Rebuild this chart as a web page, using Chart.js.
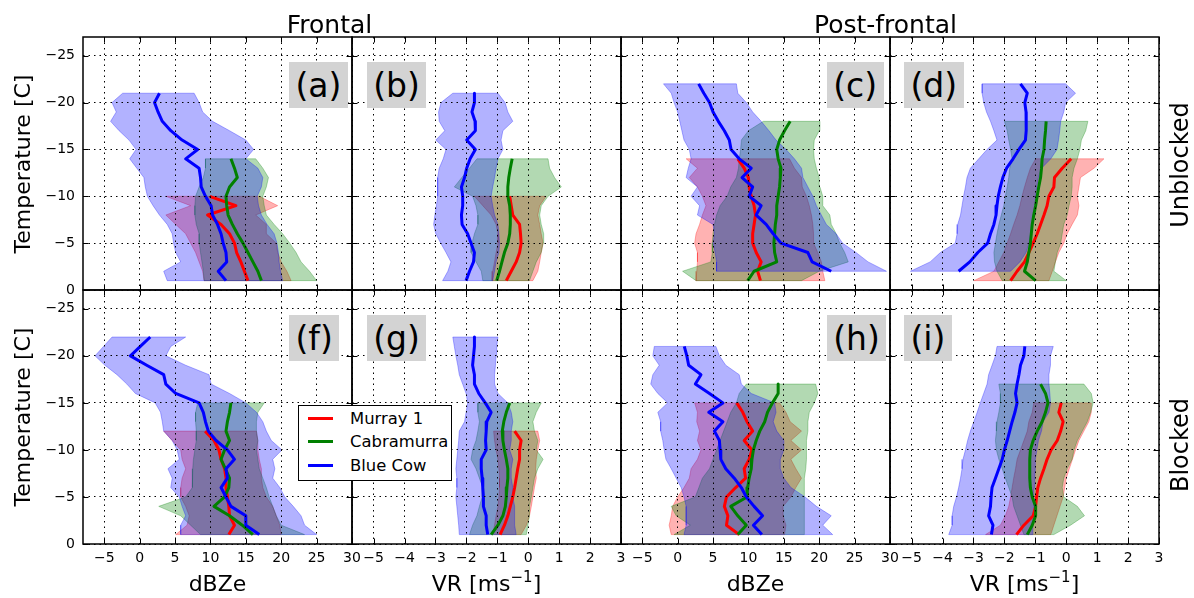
<!DOCTYPE html>
<html>
<head>
<meta charset="utf-8">
<script src="https://cdn.jsdelivr.net/npm/chart.js@4.4.1/dist/chart.umd.min.js"></script>
<style>
  html, body { margin: 0; padding: 0; background: #fff; }
  #wrap { position: relative; width: 1194px; height: 598px; overflow: hidden;
          font-family: "DejaVu Sans", sans-serif; color: #000; }
  #plots canvas { position: absolute; left: 0; top: 0; }
  .t { position: absolute; white-space: nowrap; text-align: center; z-index: 5; }
  .rot { transform: rotate(-90deg); }
  .lab { position: absolute; background: #d3d3d3; font-size: 33px; line-height: 33px;
         padding: 6.5px 6.5px; z-index: 5; white-space: nowrap; }
  #legend { position: absolute; left: 298px; top: 405px; width: 152px; height: 74px;
            border: 1px solid #000; background: #fff; z-index: 6; }
  #legend .ln { position: absolute; left: 9px; width: 25px; height: 3px; }
  #legend .tx { position: absolute; left: 51px; font-size: 16.4px; line-height: 17px; white-space: nowrap; }
  sup.e { font-size: 15px; vertical-align: 0; position: relative; top: -9px; }
</style>
</head>
<body>
<div id="wrap">
  <div id="plots"></div>

  <div class="t" style="left:229.5px;top:12px;width:200px;font-size:25px;line-height:25px;">Frontal</div>
  <div class="t" style="left:785.5px;top:12px;width:200px;font-size:25px;line-height:25px;">Post-frontal</div>

  <div class="t rot" style="left:-107.5px;top:152.5px;width:260px;height:22px;font-size:22px;line-height:22px;">Temperature [C]</div>
  <div class="t rot" style="left:-107.5px;top:406px;width:260px;height:22px;font-size:22px;line-height:22px;">Temperature [C]</div>

  <div class="t rot" style="left:1079.7px;top:153px;width:200px;height:24px;font-size:24px;line-height:24px;">Unblocked</div>
  <div class="t rot" style="left:1079.7px;top:433px;width:200px;height:24px;font-size:24px;line-height:24px;">Blocked</div>

  <div class="t" style="left:117.5px;top:572.5px;width:200px;font-size:22px;line-height:22px;">dBZe</div>
  <div class="t" style="left:386.5px;top:572.5px;width:200px;font-size:22px;line-height:22px;">VR [ms<sup class="e">&minus;1</sup>]</div>
  <div class="t" style="left:655.5px;top:572.5px;width:200px;font-size:22px;line-height:22px;">dBZe</div>
  <div class="t" style="left:924.5px;top:572.5px;width:200px;font-size:22px;line-height:22px;">VR [ms<sup class="e">&minus;1</sup>]</div>

  <div class="lab" style="left:289px;top:62px;">(a)</div>
  <div class="lab" style="left:366.7px;top:62px;">(b)</div>
  <div class="lab" style="left:826.7px;top:62px;">(c)</div>
  <div class="lab" style="left:904px;top:62px;">(d)</div>
  <div class="lab" style="left:289px;top:315px;">(f)</div>
  <div class="lab" style="left:366.7px;top:315px;">(g)</div>
  <div class="lab" style="left:826.7px;top:315px;">(h)</div>
  <div class="lab" style="left:904px;top:315px;">(i)</div>

  <div id="legend">
    <div class="ln" style="top:10.8px;background:#ff0000;"></div>
    <div class="tx" style="top:3.8px;">Murray 1</div>
    <div class="ln" style="top:34.2px;background:#008000;"></div>
    <div class="tx" style="top:27.2px;">Cabramurra</div>
    <div class="ln" style="top:57.5px;background:#0000ff;"></div>
    <div class="tx" style="top:50.5px;">Blue Cow</div>
  </div>
</div>

<script>
// ---- temperature levels (deg C) ----
const T10 = [-10, -9, -8, -7, -6, -5, -4, -3, -2, -1];
const T12 = [-12, -11, -10, -9, -8, -7, -6, -5, -4, -3, -2, -1];
const T14 = [-14, -13, -12, -11, -10, -9, -8, -7, -6, -5, -4, -3, -2, -1];
const T15 = [-15, -14, -13, -12, -11, -10, -9, -8, -7, -6, -5, -4, -3, -2, -1];
const T17 = [-17, -16, -15, -14, -13, -12, -11, -10, -9, -8, -7, -6, -5, -4, -3, -2, -1];
const T18 = [-18, -17, -16, -15, -14, -13, -12, -11, -10, -9, -8, -7, -6, -5, -4, -3, -2, -1];
const T21 = [-21, -20, -19, -18, -17, -16, -15, -14, -13, -12, -11, -10, -9, -8, -7, -6, -5, -4, -3, -2, -1];
const T22 = [-22, -21, -20, -19, -18, -17, -16, -15, -14, -13, -12, -11, -10, -9, -8, -7, -6, -5, -4, -3, -2, -1];
const T22to2 = [-22, -21, -20, -19, -18, -17, -16, -15, -14, -13, -12, -11, -10, -9, -8, -7, -6, -5, -4, -3, -2];

// ---- tick labels ----
const tempTicks = [-25, -20, -15, -10, -5, 0];
const dbzTicks = [-5, 0, 5, 10, 15, 20, 25, 30];
const vrTicks = [-5, -4, -3, -2, -1, 0, 1, 2, 3];

// ---- (a) frontal, unblocked, dBZe ----
const aRedMed = [9.9, 13.6, 9.6, 11.5, 12.7, 13.4, 13.7, 14.3, 14.8, 15.3];
const aRedLo = [3.7, 7.2, 3.7, 5.1, 6.5, 7.2, 7.9, 8.4, 8.9, 9.1];
const aRedHi = [16.9, 19.5, 16.4, 17.9, 17.9, 19.3, 19.5, 20.0, 20.8, 21.4];
const aGreenMed = [12.9, 13.4, 13.8, 12.7, 12.2, 12.3, 12.5, 13.1, 13.8, 14.6, 15.3, 16.0, 16.7, 17.2];
const aGreenLo = [9.3, 9.3, 9.0, 8.4, 7.9, 7.8, 7.8, 8.0, 8.4, 8.4, 8.6, 8.8, 9.0, 9.1];
const aGreenHi = [16.4, 17.4, 18.2, 17.9, 17.4, 17.6, 17.9, 19.0, 20.2, 21.2, 22.1, 22.8, 24.0, 25.0];
const aBlueMed = [2.8, 2.1, 2.6, 3.2, 4.4, 6.0, 8.2, 6.5, 8.4, 8.6, 8.7, 9.3, 10.1, 10.3, 11.0, 11.5, 11.8, 12.2, 12.3, 11.1, 12.2];
const aBlueLo = [-2.4, -3.9, -3.3, -4.1, -2.9, -1.5, -0.5, -1.4, -0.4, 0.6, 0.8, 1.1, 1.9, 2.8, 3.9, 4.6, 4.8, 5.1, 5.8, 3.4, 3.9];
const aBlueHi = [7.7, 8.4, 8.9, 10.3, 12.7, 15.0, 16.1, 15.0, 16.7, 17.4, 17.2, 16.6, 16.8, 17.2, 18.0, 19.0, 19.4, 19.6, 19.7, 19.9, 20.2];

// ---- (b) frontal, unblocked, VR ----
const bRedMed = [-0.6, -0.55, -0.5, -0.28, -0.25, -0.23, -0.28, -0.39, -0.55, -0.71];
const bRedLo = [-1.74, -1.47, -1.2, -1.04, -0.98, -0.98, -1.04, -1.09, -1.15, -1.17];
const bRedHi = [0.58, 0.37, 0.31, 0.37, 0.42, 0.48, 0.42, 0.37, 0.31, 0.15];
const bGreenMed = [-0.52, -0.58, -0.63, -0.66, -0.66, -0.6, -0.58, -0.58, -0.6, -0.66, -0.77, -0.85, -0.93, -1.02];
const bGreenLo = [-1.66, -1.9, -2.15, -2.39, -1.8, -1.69, -1.63, -1.63, -1.74, -1.82, -1.85, -1.69, -1.52, -1.47];
const bGreenHi = [0.64, 0.69, 0.85, 1.07, 0.64, 0.42, 0.37, 0.42, 0.5, 0.48, 0.42, 0.26, 0.15, 0.04];
const bBlueMed = [-1.74, -1.74, -1.82, -1.72, -1.71, -1.99, -1.71, -1.88, -1.99, -2.06, -2.16, -2.12, -2.12, -2.16, -2.14, -1.96, -1.85, -1.74, -1.77, -1.9, -2.01];
const bBlueLo = [-2.44, -2.82, -2.9, -2.88, -2.7, -2.99, -2.66, -2.75, -2.88, -2.93, -2.93, -2.93, -2.97, -3.02, -3.06, -2.99, -2.83, -2.66, -2.5, -2.6, -2.77];
const bBlueHi = [-0.98, -0.75, -0.66, -0.5, -0.82, -0.88, -0.82, -0.98, -1.04, -1.09, -1.15, -1.2, -1.15, -1.09, -0.98, -0.95, -0.93, -0.95, -1.04, -1.09, -1.15];

// ---- (c) post-frontal, unblocked, dBZe ----
const cRedMed = [8.5, 9.4, 10.0, 10.1, 10.4, 10.8, 11.0, 10.8, 10.6, 10.6, 11.1, 11.8, 11.3, 11.7];
const cRedLo = [1.2, 2.8, 1.65, 2.8, 3.5, 4.0, 3.5, 3.1, 2.6, 2.4, 2.8, 2.8, 2.7, 2.6];
const cRedHi = [15.8, 16.5, 17.5, 17.6, 18.2, 18.6, 18.9, 19.1, 19.2, 19.2, 19.8, 20.3, 20.5, 20.8];
const cGreenMed = [15.9, 15.1, 14.4, 14.0, 14.2, 14.6, 14.5, 14.4, 14.2, 14.0, 14.0, 13.8, 13.7, 13.6, 13.7, 14.0, 10.8, 9.9];
const cGreenLo = [12.1, 10.0, 9.0, 8.9, 8.7, 8.6, 8.3, 7.5, 7.0, 6.0, 5.5, 5.2, 5.0, 4.9, 4.9, 4.7, 0.7, 2.6];
const cGreenHi = [20.1, 20.0, 19.3, 19.2, 19.3, 19.6, 20.0, 20.1, 20.5, 20.5, 21.5, 21.7, 22.4, 22.9, 23.6, 24.1, 20.0, 17.5];
const cBlueMed = [2.97, 3.7, 4.5, 5.0, 5.75, 6.6, 7.3, 7.55, 8.7, 10.4, 9.1, 10.6, 10.1, 11.8, 11.1, 12.5, 13.5, 14.6, 18.4, 19.0, 21.7];
const cBlueLo = [-2.0, -0.9, -0.5, 0.0, 0.3, 0.6, 0.9, 1.65, 1.9, 1.5, 1.2, 2.8, 1.9, 3.1, 2.8, 5.0, 5.2, 5.0, 5.3, 5.5, 5.5];
const cBlueHi = [8.3, 8.5, 9.7, 10.6, 11.8, 12.9, 13.9, 15.3, 16.5, 17.5, 17.7, 18.4, 19.1, 19.6, 20.3, 21.0, 22.4, 23.3, 25.2, 26.9, 29.5];

// ---- (d) post-frontal, unblocked, VR ----
const dRedMed = [0.16, -0.13, -0.38, -0.4, -0.56, -0.62, -0.72, -0.83, -0.94, -1.07, -1.21, -1.35, -1.59, -1.8];
const dRedLo = [-0.99, -1.16, -1.26, -1.35, -1.43, -1.5, -1.59, -1.7, -1.8, -1.91, -2.02, -2.18, -2.34, -2.99];
const dRedHi = [1.22, 0.9, 0.46, 0.41, 0.36, 0.41, 0.36, 0.19, 0.03, -0.08, -0.24, -0.35, -0.45, -0.56];
const dGreenMed = [-0.65, -0.67, -0.7, -0.72, -0.78, -0.8, -0.83, -0.89, -0.94, -0.99, -1.05, -1.1, -1.13, -1.16, -1.21, -1.26, -1.35, -0.99];
const dGreenLo = [-2.0, -1.91, -1.86, -1.8, -1.75, -1.83, -1.86, -1.91, -1.97, -2.02, -2.1, -2.18, -2.24, -2.29, -2.34, -2.32, -2.24, -2.07];
const dGreenHi = [0.7, 0.63, 0.49, 0.44, 0.36, 0.25, 0.19, 0.19, 0.16, 0.09, 0.03, -0.08, -0.13, -0.18, -0.29, -0.35, -0.4, 0.0];
const dBlueMed = [-1.48, -1.26, -1.34, -1.3, -1.29, -1.3, -1.32, -1.53, -1.72, -1.93, -2.05, -2.13, -2.2, -2.24, -2.27, -2.34, -2.45, -2.54, -2.86, -3.12, -3.48];
const dBlueLo = [-2.72, -2.72, -2.67, -2.58, -2.45, -2.34, -2.24, -2.56, -2.83, -3.1, -3.21, -3.26, -3.32, -3.37, -3.42, -3.51, -3.53, -3.59, -4.07, -4.4, -5.04];
const dBlueHi = [-0.02, 0.3, -0.02, -0.08, -0.18, -0.21, -0.25, -0.3, -0.5, -0.8, -0.9, -0.95, -1.0, -1.0, -1.05, -1.1, -1.15, -1.2, -1.3, -1.5, -1.8];

// ---- (f) frontal, blocked, dBZe ----
const fRedMed = [9.25, 10.5, 11.2, 11.5, 12.0, 12.2, 12.2, 12.4, 12.6, 12.7, 13.4, 12.6];
const fRedLo = [3.4, 4.6, 5.8, 6.0, 6.5, 6.0, 5.8, 5.8, 6.5, 7.0, 6.7, 5.1];
const fRedHi = [16.5, 16.7, 16.7, 16.9, 17.2, 17.2, 17.4, 17.9, 18.8, 19.3, 19.8, 20.0];
const fGreenMed = [12.9, 12.7, 12.4, 12.2, 12.7, 12.0, 11.5, 12.1, 12.7, 12.6, 12.0, 10.5, 12.7, 14.5, 16.0];
const fGreenLo = [8.2, 7.9, 7.9, 8.0, 8.0, 7.8, 7.6, 7.5, 7.5, 7.4, 6.5, 2.7, 5.8, 7.2, 8.6];
const fGreenHi = [17.6, 16.7, 16.5, 16.5, 16.7, 16.5, 16.7, 16.9, 17.4, 17.9, 18.3, 18.8, 19.3, 20.0, 23.3];
const fBlueMed = [1.5, 0.1, -1.3, 1.0, 3.4, 3.7, 5.1, 8.4, 9.0, 9.3, 9.7, 10.8, 12.4, 13.4, 12.2, 12.4, 11.5, 12.2, 12.9, 15.0, 15.0, 16.9];
const fBlueLo = [-3.9, -5.1, -6.3, -4.9, -3.2, -1.8, -0.6, 2.2, 2.95, 3.2, 3.4, 4.6, 5.3, 5.6, 4.0, 4.6, 4.4, 5.6, 6.0, 6.5, 5.8, 5.8];
const fBlueHi = [6.5, 4.4, 3.7, 6.5, 9.8, 10.1, 12.7, 15.0, 16.5, 17.4, 17.9, 18.6, 20.1, 18.8, 19.1, 18.8, 19.8, 20.5, 21.7, 22.8, 23.3, 25.0];

// ---- (g) frontal, blocked, VR ----
const gRedMed = [-0.44, -0.23, -0.28, -0.28, -0.34, -0.39, -0.44, -0.5, -0.58, -0.66, -0.77, -0.91];
const gRedLo = [-1.12, -1.09, -1.04, -0.98, -0.95, -0.93, -0.93, -0.95, -0.98, -1.04, -1.09, -1.15];
const gRedHi = [0.31, 0.37, 0.31, 0.26, 0.24, 0.26, 0.2, 0.15, 0.1, 0.04, -0.06, -0.23];
const gGreenMed = [-0.6, -0.71, -0.79, -0.84, -0.82, -0.77, -0.71, -0.66, -0.66, -0.69, -0.71, -0.74, -0.82, -0.98, -1.2];
const gGreenLo = [-1.63, -1.63, -1.58, -1.63, -1.69, -1.8, -1.85, -1.69, -1.58, -1.47, -1.49, -1.58, -1.66, -1.8, -1.9];
const gGreenHi = [0.42, 0.26, 0.15, 0.2, 0.31, 0.26, 0.48, 0.31, 0.2, 0.15, 0.1, 0.04, 0.04, -0.01, -0.06];
const gBlueMed = [-1.74, -1.74, -1.77, -1.8, -1.74, -1.74, -1.6, -1.39, -1.2, -1.34, -1.36, -1.38, -1.36, -1.52, -1.52, -1.49, -1.47, -1.45, -1.45, -1.36, -1.36, -1.31];
const gBlueLo = [-2.44, -2.39, -2.34, -2.28, -2.23, -2.12, -2.01, -1.96, -2.01, -2.06, -2.23, -2.25, -2.28, -2.31, -2.34, -2.31, -2.31, -2.34, -2.31, -2.28, -2.25, -2.23];
const gBlueHi = [-0.98, -1.02, -1.04, -1.06, -1.09, -1.09, -0.98, -0.66, -0.55, -0.5, -0.55, -0.55, -0.6, -0.5, -0.55, -0.55, -0.5, -0.5, -0.44, -0.44, -0.44, -0.39];

// ---- (h) post-frontal, blocked, dBZe ----
const hRedMed = [8.35, 9.2, 9.8, 10.6, 9.4, 10.5, 10.1, 9.4, 9.6, 8.2, 6.9, 6.6, 7.1, 6.9, 8.7];
const hRedLo = [2.4, 2.8, 2.7, 3.1, 2.8, 3.3, 2.8, 1.9, 1.65, 0.9, 0.0, -0.7, -0.9, -1.2, -0.9];
const hRedHi = [14.4, 15.3, 15.9, 17.5, 16.0, 17.5, 16.0, 16.7, 17.5, 16.7, 16.0, 14.9, 14.9, 15.3, 15.1];
const hGreenMed = [14.2, 14.2, 13.4, 12.7, 12.3, 11.6, 11.1, 10.7, 10.5, 10.4, 10.1, 9.9, 9.8, 7.5, 8.5, 9.7, 8.5];
const hGreenLo = [9.7, 8.7, 8.3, 7.5, 7.0, 6.5, 6.0, 5.5, 5.0, 4.5, 3.5, 3.0, 2.5, -0.9, -0.2, 1.8, -0.5];
const hGreenHi = [19.5, 19.8, 19.3, 18.6, 18.4, 18.4, 18.2, 18.2, 18.2, 18.1, 17.9, 17.9, 17.9, 17.9, 17.9, 17.9, 17.9];
const hBlueMed = [0.94, 1.3, 1.56, 3.3, 2.5, 4.5, 6.4, 4.4, 6.4, 5.2, 5.9, 6.0, 6.1, 6.8, 8.0, 9.0, 9.7, 10.8, 12.0, 10.7, 11.9];
const hBlueLo = [-3.3, -3.5, -2.6, -3.5, -3.8, -2.8, -1.4, -2.8, -2.4, -2.4, -2.1, -1.9, -1.65, -0.9, -0.2, 0.5, 0.9, 1.2, 1.2, 1.2, 0.9];
const hBlueHi = [5.4, 5.9, 6.8, 8.7, 9.0, 10.4, 13.7, 13.9, 13.5, 14.0, 15.0, 15.0, 14.5, 14.5, 15.0, 16.0, 18.0, 19.6, 21.7, 20.5, 21.9];

// ---- (i) post-frontal, blocked, VR ----
const iRedMed = [-0.16, -0.24, -0.1, -0.18, -0.29, -0.49, -0.62, -0.72, -0.83, -0.92, -0.96, -0.99, -1.07, -1.37, -1.61];
const iRedLo = [-1.05, -1.1, -1.21, -1.26, -1.37, -1.48, -1.59, -1.64, -1.7, -1.75, -1.8, -1.86, -1.97, -2.13, -2.61];
const iRedHi = [0.81, 0.81, 0.73, 0.57, 0.41, 0.3, 0.2, 0.1, 0.0, -0.05, -0.1, -0.2, -0.3, -0.4, -0.5];
const iGreenMed = [-0.83, -0.67, -0.59, -0.67, -0.78, -0.94, -1.07, -1.16, -1.18, -1.18, -1.18, -1.16, -1.1, -0.99, -0.99, -1.1, -1.26];
const iGreenLo = [-2.18, -2.13, -2.13, -2.18, -2.24, -2.26, -2.29, -2.26, -2.18, -2.07, -1.97, -1.86, -1.75, -1.7, -1.59, -1.48, -1.37];
const iGreenHi = [0.57, 0.81, 0.87, 0.79, 0.68, 0.52, 0.36, 0.25, 0.19, 0.03, -0.08, -0.13, -0.08, 0.36, 0.59, 0.14, -0.4];
const iBlueMed = [-1.34, -1.37, -1.48, -1.53, -1.59, -1.64, -1.59, -1.66, -1.75, -1.83, -1.91, -2.0, -2.07, -2.18, -2.29, -2.4, -2.43, -2.45, -2.51, -2.37, -2.42];
const iBlueLo = [-2.24, -2.29, -2.4, -2.51, -2.56, -2.67, -2.78, -2.88, -2.99, -3.1, -3.19, -3.26, -3.34, -3.37, -3.42, -3.48, -3.55, -3.64, -3.69, -3.69, -3.8];
const iBlueHi = [-0.42, -0.51, -0.51, -0.56, -0.56, -0.53, -0.51, -0.56, -0.75, -0.8, -0.9, -0.95, -1.0, -1.0, -1.02, -1.04, -1.05, -1.06, -1.07, -1.08, -1.1];

// ---- page geometry ----
const PAGE_W = 1194, PAGE_H = 598;
const COLS = [83, 352, 621, 890, 1159];
const ROWS = [37, 290, 544];
const TICK_LEN = 5.5;
const Y_AXIS_W = 60;   // room reserved for temperature tick labels
const X_AXIS_H = 30;   // room reserved for x tick labels

const STATION_STYLE = [
  { line: '#ff0000', fill: 'rgba(255,0,0,0.3)', edge: 'rgba(255,0,0,0.3)' },   // Murray 1
  { line: '#008000', fill: 'rgba(0,128,0,0.3)', edge: 'rgba(0,128,0,0.3)' },   // Cabramurra
  { line: '#0000ff', fill: 'rgba(0,0,255,0.3)', edge: 'rgba(0,0,255,0.3)' }    // Blue Cow
];

const XAXES = {
  dbz: { min: -8, max: 30, ticks: dbzTicks },
  vr: { min: -5.7, max: 3, ticks: vrTicks }
};

const PANELS = [
  { col: 0, row: 0, axis: 'dbz', st: [[T10, aRedMed, aRedLo, aRedHi], [T14, aGreenMed, aGreenLo, aGreenHi], [T21, aBlueMed, aBlueLo, aBlueHi]] },
  { col: 1, row: 0, axis: 'vr',  st: [[T10, bRedMed, bRedLo, bRedHi], [T14, bGreenMed, bGreenLo, bGreenHi], [T21, bBlueMed, bBlueLo, bBlueHi]] },
  { col: 2, row: 0, axis: 'dbz', st: [[T14, cRedMed, cRedLo, cRedHi], [T18, cGreenMed, cGreenLo, cGreenHi], [T22to2, cBlueMed, cBlueLo, cBlueHi]] },
  { col: 3, row: 0, axis: 'vr',  st: [[T14, dRedMed, dRedLo, dRedHi], [T18, dGreenMed, dGreenLo, dGreenHi], [T22to2, dBlueMed, dBlueLo, dBlueHi]] },
  { col: 0, row: 1, axis: 'dbz', st: [[T12, fRedMed, fRedLo, fRedHi], [T15, fGreenMed, fGreenLo, fGreenHi], [T22, fBlueMed, fBlueLo, fBlueHi]] },
  { col: 1, row: 1, axis: 'vr',  st: [[T12, gRedMed, gRedLo, gRedHi], [T15, gGreenMed, gGreenLo, gGreenHi], [T22, gBlueMed, gBlueLo, gBlueHi]] },
  { col: 2, row: 1, axis: 'dbz', st: [[T15, hRedMed, hRedLo, hRedHi], [T17, hGreenMed, hGreenLo, hGreenHi], [T21, hBlueMed, hBlueLo, hBlueHi]] },
  { col: 3, row: 1, axis: 'vr',  st: [[T15, iRedMed, iRedLo, iRedHi], [T17, iGreenMed, iGreenLo, iGreenHi], [T21, iBlueMed, iBlueLo, iBlueHi]] }
];

const fmt = v => (v < 0 ? '\u2212' + Math.abs(v) : String(v));

// closed polygon: lower bound going up, upper bound coming back down
function bandPoints(temps, lo, hi) {
  const pts = temps.map((t, i) => ({ x: lo[i], y: t }));
  for (let i = temps.length - 1; i >= 0; i--) pts.push({ x: hi[i], y: temps[i] });
  pts.push({ x: lo[0], y: temps[0] });
  return pts;
}

function medianPoints(temps, med) {
  return temps.map((t, i) => ({ x: med[i], y: t }));
}

// black axes frame plus inward tick marks on all four sides
const framePlugin = {
  id: 'panelFrame',
  afterDraw(chart) {
    const { ctx, chartArea: a, scales } = chart;
    ctx.save();
    ctx.strokeStyle = '#000';
    ctx.lineWidth = 1;
    ctx.beginPath();
    scales.x.ticks.forEach(t => {
      const px = Math.round(scales.x.getPixelForValue(t.value)) + 0.5;
      ctx.moveTo(px, a.top); ctx.lineTo(px, a.top + TICK_LEN);
      ctx.moveTo(px, a.bottom); ctx.lineTo(px, a.bottom - TICK_LEN);
    });
    scales.y.ticks.forEach(t => {
      const py = Math.round(scales.y.getPixelForValue(t.value)) + 0.5;
      ctx.moveTo(a.left, py); ctx.lineTo(a.left + TICK_LEN, py);
      ctx.moveTo(a.right, py); ctx.lineTo(a.right - TICK_LEN, py);
    });
    ctx.stroke();
    ctx.lineWidth = 1.5;
    ctx.strokeRect(a.left, a.top, a.right - a.left, a.bottom - a.top);
    ctx.restore();
  }
};

Chart.defaults.font.family = '"DejaVu Sans", sans-serif';
Chart.defaults.font.size = 14;
Chart.defaults.color = '#000';

const holder = document.getElementById('plots');

PANELS.forEach(p => {
  const canvas = document.createElement('canvas');
  canvas.width = PAGE_W;
  canvas.height = PAGE_H;
  canvas.style.width = PAGE_W + 'px';
  canvas.style.height = PAGE_H + 'px';
  holder.appendChild(canvas);

  const datasets = [];
  p.st.forEach(([temps, med, lo, hi], k) => {
    const s = STATION_STYLE[k];
    datasets.push({
      data: bandPoints(temps, lo, hi),
      fill: 'shape',
      backgroundColor: s.fill,
      borderColor: s.edge,
      borderWidth: 1,
      pointRadius: 0,
      tension: 0,
      order: 6 - k
    });
  });
  p.st.forEach(([temps, med], k) => {
    const s = STATION_STYLE[k];
    datasets.push({
      data: medianPoints(temps, med),
      fill: false,
      borderColor: s.line,
      borderWidth: 3,
      borderJoinStyle: 'round',
      pointRadius: 0,
      tension: 0,
      order: 3 - k
    });
  });

  const xa = XAXES[p.axis];
  const gridOpts = { color: '#000', lineWidth: 1, drawTicks: false, z: 1 };
  const borderOpts = { display: false, dash: [1.5, 4] };

  new Chart(canvas, {
    type: 'line',
    data: { datasets },
    options: {
      responsive: false,
      animation: false,
      events: [],
      layout: {
        autoPadding: false,
        padding: {
          left: COLS[p.col] - Y_AXIS_W,
          right: PAGE_W - COLS[p.col + 1],
          top: ROWS[p.row],
          bottom: PAGE_H - ROWS[p.row + 1] - X_AXIS_H
        }
      },
      plugins: { legend: { display: false }, tooltip: { enabled: false } },
      scales: {
        x: {
          type: 'linear',
          position: 'bottom',
          min: xa.min,
          max: xa.max,
          afterBuildTicks: s => { s.ticks = xa.ticks.map(v => ({ value: v })); },
          afterFit: s => { s.height = X_AXIS_H; s.paddingLeft = 0; s.paddingRight = 0; },
          grid: gridOpts,
          border: borderOpts,
          ticks: {
            display: p.row === 1,
            padding: 6,
            autoSkip: false,
            maxRotation: 0,
            minRotation: 0,
            callback: v => fmt(v)
          }
        },
        y: {
          type: 'linear',
          position: 'left',
          reverse: true,
          min: -27,
          max: 0,
          afterBuildTicks: s => { s.ticks = tempTicks.map(v => ({ value: v })); },
          afterFit: s => { s.width = Y_AXIS_W; s.paddingTop = 0; s.paddingBottom = 0; },
          grid: gridOpts,
          border: borderOpts,
          ticks: {
            display: p.col === 0,
            padding: 8,
            autoSkip: false,
            callback: v => fmt(v)
          }
        }
      }
    },
    plugins: [framePlugin]
  });
});
</script>
</body>
</html>
